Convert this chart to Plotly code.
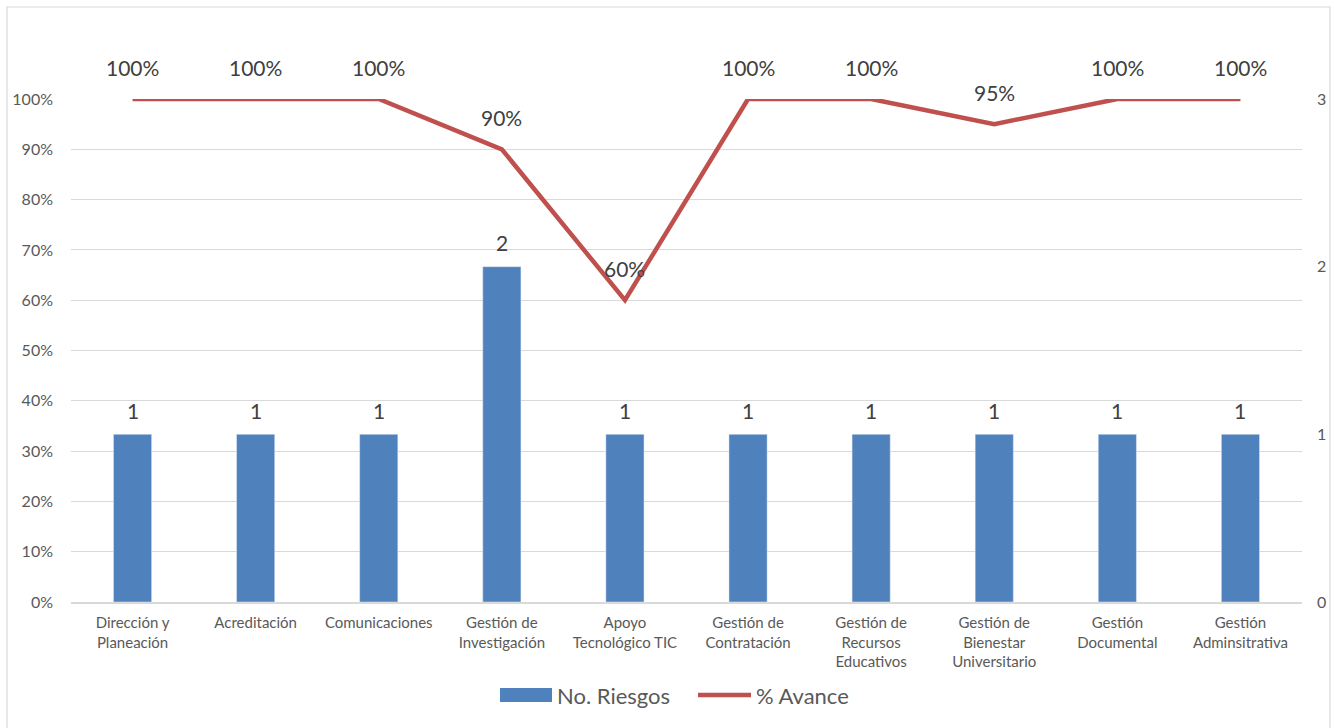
import plotly.graph_objects as go

categories = ["Dirección y<br>Planeación", "Acreditación", "Comunicaciones",
              "Gestión de<br>Investigación", "Apoyo<br>Tecnológico TIC",
              "Gestión de<br>Contratación", "Gestión de<br>Recursos<br>Educativos",
              "Gestión de<br>Bienestar<br>Universitario", "Gestión<br>Documental",
              "Gestión<br>Adminsitrativa"]
riesgos = [1, 1, 1, 2, 1, 1, 1, 1, 1, 1]
avance = [1.00, 1.00, 1.00, 0.90, 0.60, 1.00, 1.00, 0.95, 1.00, 1.00]
avance_labels = ["100%", "100%", "100%", "90%", "60%", "100%", "100%", "95%", "100%", "100%"]

BAR = "#4F81BD"
LINE = "#C0504D"
TXT = "#595959"
GRID = "#D9D9D9"
FONT = "Lato, Carlito, Calibri, sans-serif"

W, H = 1334, 728
L, R, T, B = 71, 32, 99, 126
PW, PH = W - L - R, H - T - B

def px(x):
    return (x - L) / PW

def py(y):
    return (H - B - y) / PH

fig = go.Figure()
fig.add_trace(go.Bar(x=categories, y=riesgos, name="No. Riesgos", marker_color=BAR,
                     yaxis="y2", showlegend=False))
fig.add_trace(go.Scatter(x=categories, y=avance, name="% Avance", mode="lines",
                         line=dict(color=LINE, width=4.5), yaxis="y", showlegend=False))

annotations = []
for c, v, lab in zip(categories, avance, avance_labels):
    annotations.append(dict(x=c, y=v, xref="x", yref="y", text=lab, showarrow=False,
                            yshift=32, font=dict(size=21, color="#404040", family=FONT)))
for c, v in zip(categories, riesgos):
    annotations.append(dict(x=c, y=v, xref="x", yref="y2", text=str(v), showarrow=False,
                            yshift=24, font=dict(size=21, color="#404040", family=FONT)))

# legend (custom)
annotations.append(dict(x=px(555), y=py(695), xref="paper", yref="paper", text="No. Riesgos",
                        showarrow=False, xanchor="left", yanchor="middle",
                        font=dict(size=22, color=TXT, family=FONT)))
annotations.append(dict(x=px(754), y=py(695), xref="paper", yref="paper", text="% Avance",
                        showarrow=False, xanchor="left", yanchor="middle",
                        font=dict(size=22, color=TXT, family=FONT)))

shapes = [
    dict(type="rect", xref="paper", yref="paper", x0=px(7), x1=px(1330), y0=py(740), y1=py(7),
         line=dict(color="#D9D9D9", width=1.2), fillcolor="rgba(0,0,0,0)", layer="below"),
    dict(type="rect", xref="paper", yref="paper", x0=px(500), x1=px(552), y0=py(702), y1=py(688),
         line=dict(width=0), fillcolor=BAR),
    dict(type="line", xref="paper", yref="paper", x0=px(698), x1=px(751), y0=py(695), y1=py(695),
         line=dict(color=LINE, width=4.5)),
]

fig.update_layout(
    width=W, height=H,
    margin=dict(l=L, r=R, t=T, b=B, autoexpand=False),
    paper_bgcolor="white", plot_bgcolor="white",
    bargap=0.69,
    font=dict(family=FONT, color=TXT),
    xaxis=dict(showgrid=False, tickfont=dict(size=15, color=TXT), ticks="",
               showline=True, linecolor=GRID, linewidth=2, automargin=False,
               ticklabelstandoff=6),
    yaxis=dict(range=[0, 1], tickformat=".0%", dtick=0.1, showgrid=True, gridcolor=GRID,
               gridwidth=1, zeroline=False, tickfont=dict(size=16, color=TXT),
               ticklabelstandoff=17, automargin=False),
    yaxis2=dict(range=[0, 3], dtick=1, overlaying="y", side="right", showgrid=False,
                zeroline=False, tickfont=dict(size=16, color=TXT), ticklabelstandoff=14,
                automargin=False, ticklabeloverflow="allow"),
    annotations=annotations,
    shapes=shapes,
    showlegend=False,
)

fig.write_html("out.html")
